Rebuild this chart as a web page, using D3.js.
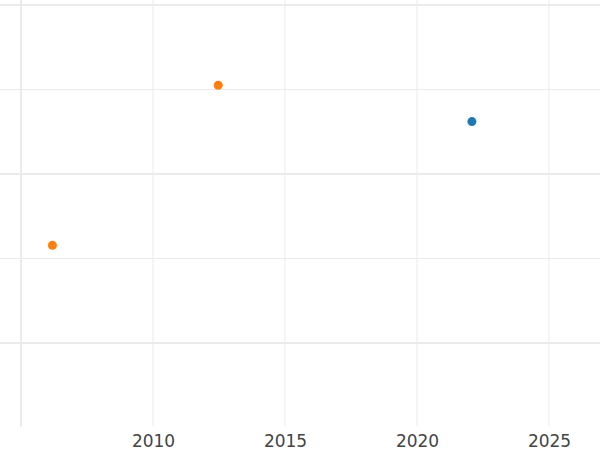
<!DOCTYPE html>
<html>
<head>
<meta charset="utf-8">
<script src="https://cdn.jsdelivr.net/npm/d3@7"></script>
<style>
  html, body { margin: 0; padding: 0; background: #fff; }
  svg { display: block; }
</style>
</head>
<body>
<svg id="chart" width="600" height="450"></svg>
<script>
// Data
const seriesOrangeYears = [2006.19, 2012.47];
const seriesOrangeValues = [0.578, 1.525];
const seriesBlueYears = [2022.08];
const seriesBlueValues = [1.31];
const xTickLabels = [2010, 2015, 2020, 2025];
const xMajorGrid = [2005];
const xMinorGrid = [2010, 2015, 2020, 2025];
const yMajorGrid = [0, 1, 2];
const yMinorGrid = [0.5, 1.5];

const W = 600, H = 450;
const svg = d3.select("#chart");
const x = d3.scaleLinear().domain([2005, 2025]).range([21, 549]);
const y = d3.scaleLinear().domain([0, 2]).range([343, 5]);
const plotBottom = 426.5;

const grid = svg.append("g");
// horizontal grid
grid.selectAll("line.hmin").data(yMinorGrid).join("line")
  .attr("x1", 0).attr("x2", W)
  .attr("y1", d => y(d)).attr("y2", d => y(d))
  .attr("stroke", "#ebebeb").attr("stroke-width", 1);
grid.selectAll("line.hmaj").data(yMajorGrid).join("line")
  .attr("x1", 0).attr("x2", W)
  .attr("y1", d => y(d)).attr("y2", d => y(d))
  .attr("stroke", "#ebebeb").attr("stroke-width", 2);
// vertical grid
grid.selectAll("line.vmin").data(xMinorGrid).join("line")
  .attr("x1", d => x(d)).attr("x2", d => x(d))
  .attr("y1", 0).attr("y2", plotBottom)
  .attr("stroke", "#ebebeb").attr("stroke-width", 1);
grid.selectAll("line.vmaj").data(xMajorGrid).join("line")
  .attr("x1", d => x(d)).attr("x2", d => x(d))
  .attr("y1", 0).attr("y2", plotBottom)
  .attr("stroke", "#ebebeb").attr("stroke-width", 2);

// x axis labels
const xAxis = d3.axisBottom(x).tickValues(xTickLabels).tickFormat(d3.format("d")).tickSize(0).tickPadding(0);
const ax = svg.append("g").attr("transform", `translate(0,${plotBottom})`).call(xAxis);
ax.select(".domain").remove();
ax.selectAll("text")
  .attr("font-family", "DejaVu Sans")
  .attr("font-size", 17)
  .attr("fill", "#444")
  .attr("dy", null)
  .attr("y", 20.3);

// points
const pts = svg.append("g");
pts.selectAll("circle.o").data(seriesOrangeYears.map((d, i) => [d, seriesOrangeValues[i]])).join("circle")
  .attr("cx", d => x(d[0])).attr("cy", d => y(d[1])).attr("r", 4.5).attr("fill", "#ff7f0e");
pts.selectAll("circle.b").data(seriesBlueYears.map((d, i) => [d, seriesBlueValues[i]])).join("circle")
  .attr("cx", d => x(d[0])).attr("cy", d => y(d[1])).attr("r", 4.5).attr("fill", "#1f77b4");
</script>
</body>
</html>
